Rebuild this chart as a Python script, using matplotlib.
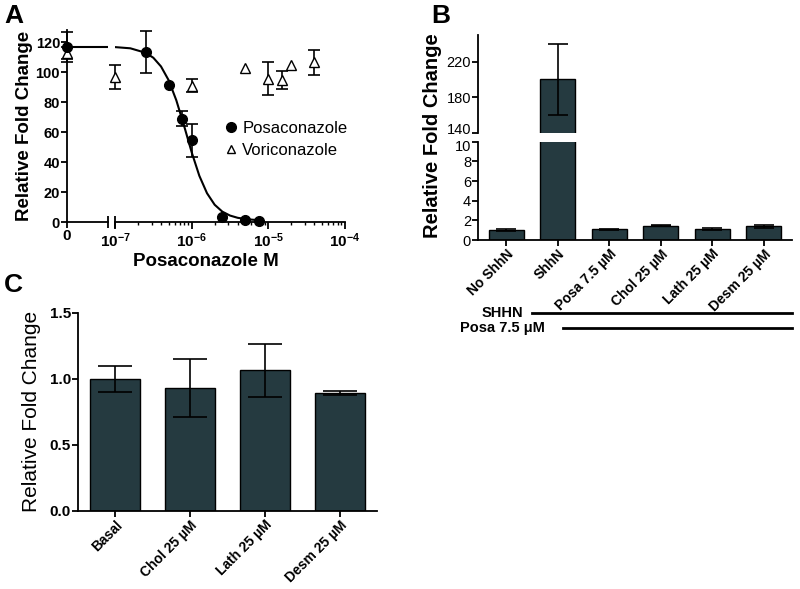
import numpy as np
import matplotlib
matplotlib.use("Agg")
import matplotlib.pyplot as plt
from matplotlib.lines import Line2D
from matplotlib.transforms import ScaledTranslation

plt.rcParams['font.family'] = ['Liberation Sans', 'DejaVu Sans']
plt.rcParams['mathtext.fontset'] = 'custom'
plt.rcParams['mathtext.rm'] = 'Liberation Sans'
plt.rcParams['mathtext.bf'] = 'Liberation Sans:bold'
plt.rcParams['axes.linewidth'] = 1.3

# ---- datos panel A ----
posa_x = [0, 2.5e-7, 5e-7, 7.5e-7, 1e-6, 2.5e-6, 5e-6, 7.5e-6]
posa_y = [117, 113.5, 91.5, 69, 54.5, 3.2, 1.1, 1.0]
posa_err = [10, 14, 0, 5, 11, 0, 0, 0]
vori_x = [0, 1e-7, 1e-6, 5e-6, 1e-5, 1.5e-5, 2e-5, 4e-5]
vori_y = [112.5, 97, 91, 103, 95.5, 95, 105, 106.5]
vori_err = [4, 8, 4.5, 0, 11, 6, 0, 8.5]
# curva ajustada (log10 M, respuesta)
curva_logx = [-7.0, -6.8, -6.6, -6.5, -6.4, -6.3, -6.2, -6.1, -6.0, -5.9,
              -5.8, -5.7, -5.6, -5.5, -5.4, -5.3, -5.2, -5.125]
curva_y = [116.6, 115.8, 112.8, 109.5, 103.7, 94.5, 81.1, 64.3, 46.5, 30.8,
           19.2, 11.5, 6.9, 4.3, 2.8, 2.0, 1.5, 1.3]
a_ticks_log = [1e-7, 1e-6, 1e-5, 1e-4]
a_ticklabels = [r'$\mathbf{10^{-7}}$', r'$\mathbf{10^{-6}}$',
                r'$\mathbf{10^{-5}}$', r'$\mathbf{10^{-4}}$']

# ---- datos panel B ----
b_cats = ['No ShhN', 'ShhN', 'Posa 7.5 µM', 'Chol 25 µM', 'Lath 25 µM', 'Desm 25 µM']
b_vals = [1.02, 200, 1.1, 1.47, 1.1, 1.4]
b_err = [0.07, 40, 0.04, 0.07, 0.12, 0.17]

# ---- datos panel C ----
c_cats = ['Basal', 'Chol 25 µM', 'Lath 25 µM', 'Desm 25 µM']
c_vals = [1.0, 0.93, 1.065, 0.895]
c_err = [0.1, 0.22, 0.2, 0.015]

color_barra = '#253a40'
W, H = 800, 589


def fx(px):
    return px / W


def fy(py):
    return 1 - py / H


fig = plt.figure(figsize=(8, 5.89), dpi=100)

# ================= Panel A =================
a_bot, a_top = fy(222), fy(30)
axL = fig.add_axes([fx(67), a_bot, fx(108 - 67), a_top - a_bot])
axR = fig.add_axes([fx(115), a_bot, fx(345 - 115), a_top - a_bot], sharey=axL)

for ax in (axL, axR):
    ax.spines['top'].set_visible(False)
    ax.spines['right'].set_visible(False)
    ax.set_ylim(0, 128)
axR.spines['left'].set_visible(False)
axR.tick_params(axis='y', left=False, labelleft=False)

axL.set_xlim(0, 1)
axL.set_xticks([0])
axL.set_xticklabels(['0'], fontweight='bold', fontsize=11)
axL.set_yticks([0, 20, 40, 60, 80, 100, 120])
axL.set_yticklabels(['0', '20', '40', '60', '80', '100', '120'], fontweight='bold', fontsize=10.5)
axL.tick_params(width=1.3, length=4, pad=1)
axL.set_ylabel('Relative Fold Change', fontweight='bold', fontsize=13.5, labelpad=2)

axR.set_xscale('log')
axR.set_xlim(1e-7, 1e-4)
axR.set_xticks(a_ticks_log)
axR.set_xticklabels(a_ticklabels, fontsize=11)
axR.tick_params(axis='x', which='major', width=1.3, length=5, pad=2)
axR.tick_params(axis='x', which='minor', width=1.0, length=2.5)

# marcas de corte del eje
axL.plot([1], [0], marker='|', ms=9, mew=1.3, color='black', transform=axL.transAxes, clip_on=False)
axR.plot([0], [0], marker='|', ms=9, mew=1.3, color='black', transform=axR.transAxes, clip_on=False)

posa_x = np.array(posa_x)
posa_y = np.array(posa_y)
posa_err = np.array(posa_err, dtype=float)
vori_x = np.array(vori_x)
vori_y = np.array(vori_y)
vori_err = np.array(vori_err, dtype=float)

# curva
axL.plot([0, 1], [curva_y[0], curva_y[0]], color='black', lw=1.5)
axR.plot(10 ** np.array(curva_logx), curva_y, color='black', lw=1.5)

for ax, sel_p, sel_v in ((axL, posa_x == 0, vori_x == 0), (axR, posa_x > 0, vori_x > 0)):
    xp, yp, ep = posa_x[sel_p], posa_y[sel_p], posa_err[sel_p]
    xv, yv, ev = vori_x[sel_v], vori_y[sel_v], vori_err[sel_v]
    m = ep > 0
    ax.errorbar(xp[m], yp[m], yerr=ep[m], fmt='none', ecolor='black', elinewidth=1.2,
                capsize=4, capthick=1.2, clip_on=False)
    m = ev > 0
    ax.errorbar(xv[m], yv[m], yerr=ev[m], fmt='none', ecolor='black', elinewidth=1.2,
                capsize=4, capthick=1.2, clip_on=False)
    ax.plot(xv, yv, linestyle='none', marker='^', ms=7, mfc='white', mec='black', mew=1.0,
            clip_on=False, zorder=4)
    ax.plot(xp, yp, linestyle='none', marker='o', ms=7, color='black', clip_on=False, zorder=5)

leg = [Line2D([], [], linestyle='none', marker='o', ms=7, color='black', label='Posaconazole'),
       Line2D([], [], linestyle='none', marker='^', ms=6, mfc='white', mec='black', label='Voriconazole')]
axR.legend(handles=leg, loc='upper left', bbox_to_anchor=(0.43, 0.56), frameon=False,
           fontsize=12, handletextpad=0.1, labelspacing=0.4, borderaxespad=0, handlelength=1.2)

fig.text(fx(206), fy(262), 'Posaconazole M', fontweight='bold', fontsize=13.5, ha='center', va='center')

# ================= Panel B =================
x_b = np.arange(len(b_cats))
b_up_bot, b_up_top = fy(132.7), fy(35)
b_lo_bot, b_lo_top = fy(240), fy(141.7)
axBu = fig.add_axes([fx(478), b_up_bot, fx(792 - 478), b_up_top - b_up_bot])
axBl = fig.add_axes([fx(478), b_lo_bot, fx(792 - 478), b_lo_top - b_lo_bot], sharex=axBu)

for ax in (axBu, axBl):
    ax.bar(x_b, b_vals, width=0.68, color=color_barra, edgecolor='black', linewidth=1.0)
    ax.errorbar(x_b, b_vals, yerr=b_err, fmt='none', ecolor='black', elinewidth=1.2,
                capsize=7, capthick=1.2)
    ax.spines['top'].set_visible(False)
    ax.spines['right'].set_visible(False)
    ax.tick_params(width=1.3, length=4, pad=1, labelsize=10.5)
axBu.spines['bottom'].set_visible(False)
axBu.tick_params(axis='x', bottom=False, labelbottom=False)
axBu.set_ylim(140, 250)
axBu.set_yticks([140, 180, 220])
axBl.set_ylim(0, 10)
axBl.set_yticks([0, 2, 4, 6, 8, 10])
axBl.set_xlim(-0.55, 5.55)
axBl.set_xticks(x_b)
axBl.set_xticklabels(b_cats, rotation=45, ha='right', rotation_mode='anchor',
                     fontweight='bold', fontsize=10)

# separar un poco "140" y "10", que se tocan en el corte
lbl140 = axBu.get_yticklabels()[0]
lbl140.set_transform(lbl140.get_transform() + ScaledTranslation(0, 3 / 72, fig.dpi_scale_trans))
lbl10 = axBl.get_yticklabels()[-1]
lbl10.set_transform(lbl10.get_transform() + ScaledTranslation(0, -3 / 72, fig.dpi_scale_trans))

fig.text(fx(433), fy(136), 'Relative Fold Change', rotation=90, fontweight='bold',
         fontsize=14.5, ha='center', va='center')

fig.text(fx(523), fy(313), 'SHHN', fontweight='bold', fontsize=10.5, ha='right', va='center')
fig.text(fx(545), fy(328), 'Posa 7.5 μM', fontweight='bold', fontsize=10.5, ha='right', va='center')
fig.add_artist(Line2D([fx(532), fx(792)], [fy(313), fy(313)], color='black', lw=2))
fig.add_artist(Line2D([fx(563), fx(792)], [fy(328), fy(328)], color='black', lw=2))

# ================= Panel C =================
x_c = np.arange(len(c_cats))
c_bot, c_top = fy(511), fy(312.7)
axC = fig.add_axes([fx(78), c_bot, fx(377 - 78), c_top - c_bot])
axC.bar(x_c, c_vals, width=0.67, color=color_barra, edgecolor='black', linewidth=1.0)
axC.errorbar(x_c, c_vals, yerr=c_err, fmt='none', ecolor='black', elinewidth=1.2,
             capsize=12, capthick=1.2)
axC.spines['top'].set_visible(False)
axC.spines['right'].set_visible(False)
axC.set_xlim(-0.5, 3.5)
axC.set_ylim(0, 1.5)
axC.set_yticks([0.0, 0.5, 1.0, 1.5])
axC.set_yticklabels(['0.0', '0.5', '1.0', '1.5'], fontweight='bold', fontsize=11)
axC.set_xticks(x_c)
axC.set_xticklabels(c_cats, rotation=45, ha='right', rotation_mode='anchor',
                    fontweight='bold', fontsize=10)
axC.tick_params(width=1.3, length=4, pad=1)
axC.set_ylabel('Relative Fold Change', fontsize=15, labelpad=6)

# etiquetas de panel
fig.text(fx(4), fy(4), 'A', fontweight='bold', fontsize=19, ha='left', va='top')
fig.text(fx(431), fy(4), 'B', fontweight='bold', fontsize=19, ha='left', va='top')
fig.text(fx(4), fy(273), 'C', fontweight='bold', fontsize=19, ha='left', va='top')

fig.savefig('out.png', dpi=100)
